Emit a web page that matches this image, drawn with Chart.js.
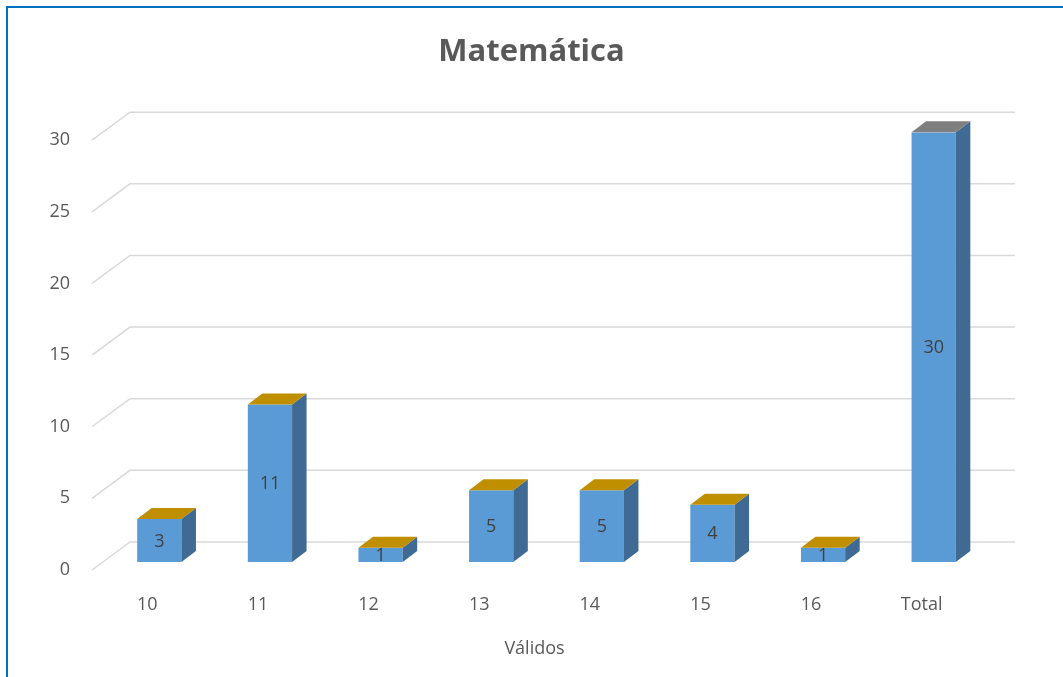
<!DOCTYPE html>
<html>
<head>
<meta charset="utf-8">
<script src="https://cdn.jsdelivr.net/npm/chart.js@4"></script>
<style>
  body { margin: 0; background: #ffffff; }
  #moldura { position: absolute; left: 6px; top: 6px; width: 1057px; height: 671px;
             border-left: 2px solid #0070C0; border-top: 2px solid #0070C0; }
  canvas { position: absolute; left: 0; top: 0; }
</style>
</head>
<body>
<div id="moldura"></div>
<canvas id="grafico" width="1063" height="677"></canvas>
<script>
// Dados do gráfico
const categorias = ['10', '11', '12', '13', '14', '15', '16', 'Total'];
const frequencias = [3, 11, 1, 5, 5, 4, 1, 30];
const ticksY = [0, 5, 10, 15, 20, 25, 30];

const fonte = '"Open Sans", Lato, sans-serif';
const corTexto = '#595959';

// Profundidade da parede do fundo e das barras
const PAREDE_DX = 38, PAREDE_DY = -28;
const BARRA_OFF_X = 12, BARRA_OFF_Y = -8;
const BARRA_DX = 14.5, BARRA_DY = -11;

// Plugin para simular o efeito 3D
const efeito3D = {
    id: 'efeito3D',
    beforeDatasetsDraw(chart) {
        const ctx = chart.ctx;
        const y = chart.scales.y;
        const area = chart.chartArea;
        ctx.save();
        ctx.strokeStyle = '#D9D9D9';
        ctx.lineWidth = 1.5;
        ticksY.forEach(v => {
            const py = y.getPixelForValue(v);
            ctx.beginPath();
            ctx.moveTo(area.left, py);
            ctx.lineTo(area.left + PAREDE_DX, py + PAREDE_DY);
            ctx.lineTo(area.right + PAREDE_DX, py + PAREDE_DY);
            ctx.stroke();
        });
        ctx.restore();

        // desloca as barras para o meio da profundidade
        ctx.save();
        ctx.translate(BARRA_OFF_X, BARRA_OFF_Y);
    },
    afterDatasetsDraw(chart) {
        const ctx = chart.ctx;
        const barras = chart.getDatasetMeta(0).data;
        barras.forEach((bar, i) => {
            const p = bar.getProps(['x', 'y', 'base', 'width'], true);
            const esq = p.x - p.width / 2;
            const dir = p.x + p.width / 2;

            // lateral
            ctx.fillStyle = '#3F6A93';
            ctx.beginPath();
            ctx.moveTo(dir, p.y);
            ctx.lineTo(dir + BARRA_DX, p.y + BARRA_DY);
            ctx.lineTo(dir + BARRA_DX, p.base + BARRA_DY);
            ctx.lineTo(dir, p.base);
            ctx.closePath();
            ctx.fill();

            // topo
            ctx.fillStyle = categorias[i] === 'Total' ? '#7F7F7F' : '#BF8F00';
            ctx.beginPath();
            ctx.moveTo(esq, p.y);
            ctx.lineTo(esq + BARRA_DX, p.y + BARRA_DY);
            ctx.lineTo(dir + BARRA_DX, p.y + BARRA_DY);
            ctx.lineTo(dir, p.y);
            ctx.closePath();
            ctx.fill();

            // rótulo do valor
            ctx.fillStyle = '#404040';
            ctx.font = '18px ' + fonte;
            ctx.textAlign = 'center';
            ctx.textBaseline = 'middle';
            ctx.fillText(String(frequencias[i]), p.x, (p.y + p.base) / 2 + 1);
        });
        ctx.restore();
    }
};

const ctx = document.getElementById('grafico').getContext('2d');

new Chart(ctx, {
    type: 'bar',
    data: {
        labels: categorias,
        datasets: [{
            data: frequencias,
            backgroundColor: '#5B9BD5',
            borderWidth: 0,
            barPercentage: 0.4,
            categoryPercentage: 1
        }]
    },
    options: {
        responsive: false,
        animation: false,
        layout: {
            padding: 0
        },
        plugins: {
            legend: { display: false },
            tooltip: { enabled: false },
            title: {
                display: true,
                text: 'Matemática',
                color: corTexto,
                font: { family: fonte, size: 31, weight: 'bold' },
                padding: { top: 34, bottom: 69 }
            }
        },
        scales: {
            x: {
                grid: { display: false },
                border: { display: false },
                ticks: {
                    color: corTexto,
                    font: { family: fonte, size: 18 },
                    padding: 16
                },
                title: {
                    display: true,
                    text: 'Válidos',
                    color: corTexto,
                    font: { family: fonte, size: 18 },
                    padding: { top: 8, bottom: 17 }
                },
                afterFit(scale) { scale.height = 107; }
            },
            y: {
                min: 0,
                max: 30,
                grid: { display: false },
                border: { display: false },
                ticks: {
                    stepSize: 5,
                    color: corTexto,
                    font: { family: fonte, size: 18 },
                    padding: 14
                },
                afterFit(scale) { scale.width = 92; }
            },
            // eixo vazio à direita só para reservar espaço da parede do fundo
            y2: {
                position: 'right',
                grid: { display: false },
                border: { display: false },
                ticks: { display: false },
                afterFit(scale) { scale.width = 86; }
            }
        }
    },
    plugins: [efeito3D]
});
</script>
</body>
</html>
